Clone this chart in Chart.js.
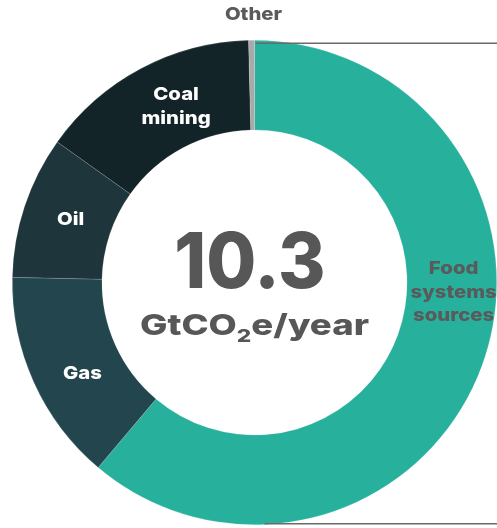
<!DOCTYPE html>
<html>
<head>
<meta charset="utf-8">
<script src="https://cdn.jsdelivr.net/npm/chart.js@4.4.1/dist/chart.umd.min.js"></script>
<style>
    html, body { margin: 0; padding: 0; background: #fff; }
    #wrap { width: 497px; height: 528px; position: relative; }
</style>
</head>
<body>
<div id="wrap"><canvas id="methaneChart"></canvas></div>
<script>
// methane sources, GtCO2e per year
const labels = ['Food systems sources', 'Gas', 'Oil', 'Coal mining', 'Other'];
const values = [6.3, 1.46, 0.98, 1.52, 0.04];
const total = '10.3';
const colors = ['#27b09c', '#23454e', '#1d353b', '#132429', '#a9a9a9'];
const labelColors = ['#5a5a5a', '#ffffff', '#ffffff', '#ffffff', '#5a5a5a'];

const FONT = 'Inter, "Open Sans", sans-serif';
const WEIGHT = '800';

// wide bold text: draw with a horizontal stretch
function wideText(ctx, t, x, y, size, sx, align) {
    ctx.save();
    ctx.font = WEIGHT + ' ' + size + 'px ' + FONT;
    ctx.translate(x, y);
    ctx.scale(sx, 1);
    ctx.textAlign = align || 'center';
    ctx.fillText(t, 0, 0);
    ctx.restore();
}

function wideWidth(ctx, t, size, sx) {
    ctx.save();
    ctx.font = WEIGHT + ' ' + size + 'px ' + FONT;
    const w = ctx.measureText(t).width * sx;
    ctx.restore();
    return w;
}

// label placement: nudge (deg) from slice middle, and line lists
const labelLayout = {
    0: { nudge: -17.3, dr: 2, lines: ['Food', 'systems', 'sources'] },
    1: { nudge: -3.5, dr: -3, lines: ['Gas'] },
    2: { nudge: 0.5, dr: -3, lines: ['Oil'] },
    3: { nudge: 3.9, dr: -5, lines: ['Coal', 'mining'] }
};

// slice labels, centre total and the bracket round the food slice
const overlay = {
    id: 'overlay',
    afterDatasetsDraw(chart) {
        const ctx = chart.ctx;
        const arcs = chart.getDatasetMeta(0).data;
        const a0 = arcs[0];
        const cx = a0.x, cy = a0.y;
        const outer = a0.outerRadius, inner = a0.innerRadius;
        const W = chart.width;

        ctx.save();
        // bracket lines
        ctx.strokeStyle = '#6a6a6a';
        ctx.lineWidth = 1.6;
        ctx.beginPath();
        ctx.moveTo(cx + 1, cy - outer + 3);
        ctx.lineTo(W, cy - outer + 3);
        ctx.moveTo(cx + 10, cy + outer - 1);
        ctx.lineTo(W, cy + outer - 1);
        ctx.stroke();

        ctx.textBaseline = 'middle';
        Object.keys(labelLayout).forEach(key => {
            const i = +key;
            const L = labelLayout[i];
            const arc = arcs[i];
            const mid = (arc.startAngle + arc.endAngle) / 2 + L.nudge * Math.PI / 180;
            const r = (inner + outer) / 2 + L.dr;
            const x = cx + r * Math.cos(mid);
            const y = cy + r * Math.sin(mid);
            const lh = 23.7;
            ctx.fillStyle = labelColors[i];
            L.lines.forEach((t, k) => {
                wideText(ctx, t, x, y + (k - (L.lines.length - 1) / 2) * lh, 18, 1.13);
            });
        });

        // other: above the ring
        ctx.fillStyle = labelColors[4];
        wideText(ctx, labels[4], cx - 1, 15, 18, 1.13);

        // centre total
        ctx.textBaseline = 'alphabetic';
        ctx.fillStyle = '#575757';
        wideText(ctx, total, cx - 4.5, cy + 5.5, 77, 0.94);

        const p1 = 'GtCO', p2 = '2', p3 = 'e/year';
        const sx = 1.26;
        const w1 = wideWidth(ctx, p1, 29, sx);
        const w2 = wideWidth(ctx, p2, 18, sx);
        const w3 = wideWidth(ctx, p3, 29, sx);
        let x = cx - (w1 + w2 + w3) / 2;
        const by = cy + 52.5;
        wideText(ctx, p1, x, by, 29, sx, 'left');
        x += w1;
        wideText(ctx, p2, x, by + 6.5, 18, sx, 'left');
        x += w2;
        wideText(ctx, p3, x, by, 29, sx, 'left');
        ctx.restore();
    }
};

new Chart(document.getElementById('methaneChart'), {
    type: 'doughnut',
    data: {
        labels: labels,
        datasets: [{
            data: values,
            backgroundColor: colors,
            borderColor: 'rgba(255,255,255,0.25)',
            borderWidth: 0.6
        }]
    },
    options: {
        responsive: true,
        maintainAspectRatio: false,
        animation: false,
        cutout: '63%',
        layout: { padding: { top: 40, bottom: 3, left: 12, right: 0 } },
        plugins: {
            legend: { display: false },
            tooltip: { enabled: false }
        }
    },
    plugins: [overlay]
});
</script>
</body>
</html>
